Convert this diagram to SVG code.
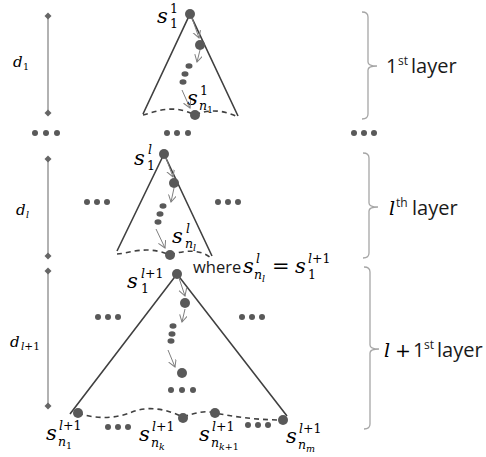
<svg xmlns="http://www.w3.org/2000/svg" width="486" height="457" viewBox="0 0 486 457">
<defs>
<marker id="ah" markerWidth="10" markerHeight="10" refX="7" refY="4" orient="auto" markerUnits="userSpaceOnUse">
<path d="M0,0 L7,4 L0,8" fill="none" stroke="#7f7f7f" stroke-width="1"/>
</marker>
<style>
.edge{stroke:#404040;stroke-width:1.6;fill:none}
.dash{stroke:#404040;stroke-width:1.6;fill:none;stroke-dasharray:5 4}
.arr{stroke:#7f7f7f;stroke-width:1;fill:none;marker-end:url(#ah)}
.dot{fill:#595959}
.dline{stroke:#7f7f7f;stroke-width:1.2}
.dia{fill:#666666}
.brace{stroke:#a6a6a6;stroke-width:1.3;fill:none}
.m{font-family:"DejaVu Serif",serif;font-style:italic;fill:#000}
.u{font-family:"DejaVu Serif",serif;font-style:normal;fill:#000}
.t{font-family:"Open Sans","Liberation Sans",sans-serif;fill:#1a1a1a}
.b{font-size:21px}
.sm{font-size:12.5px}
.xs{font-size:9.5px}
</style>
</defs>
<rect width="486" height="457" fill="#ffffff"/>

<!-- depth markers -->
<g id="depth1">
<line class="dline" x1="48" y1="16" x2="48" y2="113"/>
<path class="dia" d="M48,12.5 L51.5,16 L48,19.5 L44.5,16 Z"/>
<path class="dia" d="M48,109.5 L51.5,113 L48,116.5 L44.5,113 Z"/>
<text class="m" x="13" y="67" font-size="15">d</text>
<text class="u xs" x="23" y="70">1</text>
</g>
<g id="depthl">
<line class="dline" x1="48" y1="159" x2="48" y2="256"/>
<path class="dia" d="M48,155.5 L51.5,159 L48,162.5 L44.5,159 Z"/>
<path class="dia" d="M48,252.5 L51.5,256 L48,259.5 L44.5,256 Z"/>
<text class="m" x="16" y="215" font-size="15">d</text>
<text class="m xs" x="26" y="218">l</text>
</g>
<g id="depthl1">
<line class="dline" x1="48" y1="271" x2="48" y2="406"/>
<path class="dia" d="M48,267.5 L51.5,271 L48,274.5 L44.5,271 Z"/>
<path class="dia" d="M48,402.5 L51.5,406 L48,409.5 L44.5,406 Z"/>
<text class="m" x="10" y="347" font-size="15">d</text>
<text class="m" x="21" y="350" font-size="10.5">l<tspan class="u">+1</tspan></text>
</g>

<!-- ellipsis rows -->
<g id="ellipses" class="dot">
<circle cx="35" cy="133" r="3"/><circle cx="46" cy="133" r="3"/><circle cx="57" cy="133" r="3"/>
<circle cx="167" cy="133" r="3"/><circle cx="177" cy="133" r="3"/><circle cx="188" cy="133" r="3"/>
<circle cx="354" cy="133" r="3"/><circle cx="364" cy="133" r="3"/><circle cx="374" cy="133" r="3"/>
<circle cx="87" cy="202" r="3"/><circle cx="97" cy="202" r="3"/><circle cx="107" cy="202" r="3"/>
<circle cx="218" cy="202" r="3"/><circle cx="228" cy="202" r="3"/><circle cx="238" cy="202" r="3"/>
<circle cx="98" cy="317" r="3"/><circle cx="108" cy="317" r="3"/><circle cx="118" cy="317" r="3"/>
<circle cx="242" cy="317" r="3"/><circle cx="252" cy="317" r="3"/><circle cx="262" cy="317" r="3"/>
<circle cx="108" cy="427" r="3"/><circle cx="118" cy="427" r="3"/><circle cx="128" cy="427" r="3"/>
<circle cx="248" cy="425" r="3"/><circle cx="258" cy="425" r="3"/><circle cx="268" cy="425" r="3"/>
</g>

<!-- layer 1 -->
<g id="layer1">
<path class="edge" d="M143,114 L190,14 L238,116"/>
<path class="dash" d="M143,115 C158,111 173,104 195,115 C210,108 226,111 238,117"/>
<circle class="dot" cx="190" cy="14" r="5"/>
<circle class="dot" cx="200" cy="45" r="5"/>
<ellipse class="dot" cx="189" cy="66" rx="3.5" ry="2.7"/>
<ellipse class="dot" cx="185" cy="74" rx="3.5" ry="2.7"/>
<ellipse class="dot" cx="183" cy="82" rx="3.5" ry="2.7"/>
<circle class="dot" cx="195" cy="115" r="5"/>
<text class="m b" x="157" y="23">s</text>
<text class="u sm" x="170" y="13">1</text>
<text class="u sm" x="170" y="28">1</text>
<text class="m b" x="187" y="105">s</text>
<text class="u sm" x="200" y="95">1</text>
<text class="m sm" x="199" y="110">n</text>
<text class="u xs" x="207" y="113">1</text>
</g>

<!-- layer l -->
<g id="layerl">
<path class="edge" d="M117,251 L164,154 L212,256"/>
<path class="dash" d="M117,254 C131,253 146,245 170,255 C185,250 200,249 211,258"/>
<circle class="dot" cx="164" cy="154" r="5"/>
<circle class="dot" cx="174" cy="183" r="5"/>
<ellipse class="dot" cx="163" cy="206" rx="3.5" ry="2.7"/>
<ellipse class="dot" cx="160" cy="214" rx="3.5" ry="2.7"/>
<ellipse class="dot" cx="158" cy="222" rx="3.5" ry="2.7"/>
<circle class="dot" cx="170" cy="255" r="5"/>
<text class="m b" x="134" y="165">s</text>
<text class="m sm" x="148" y="154">l</text>
<text class="u sm" x="147" y="170">1</text>
<text class="m b" x="172" y="243">s</text>
<text class="m sm" x="186" y="233">l</text>
<text class="m sm" x="185" y="248">n</text>
<text class="m xs" x="193" y="251">l</text>
</g>

<!-- layer l+1 -->
<g id="layerl1">
<path class="edge" d="M70,414 L177,274 L287,416"/>
<path class="dash" d="M78,413 C98,420 118,418 132,412 C150,405 168,410 183,417 C195,413 205,410 215,413 C240,418 262,420 283,420"/>
<circle class="dot" cx="177" cy="274" r="5"/>
<circle class="dot" cx="185" cy="303" r="5"/>
<ellipse class="dot" cx="173" cy="326" rx="3.5" ry="2.7"/>
<ellipse class="dot" cx="172" cy="334" rx="3.5" ry="2.7"/>
<ellipse class="dot" cx="171" cy="341" rx="3.5" ry="2.7"/>
<circle class="dot" cx="182" cy="373" r="5"/>
<circle class="dot" cx="171" cy="390" r="3"/><circle class="dot" cx="182" cy="390" r="3"/><circle class="dot" cx="193" cy="390" r="3"/>
<circle class="dot" cx="78" cy="413" r="5"/>
<circle class="dot" cx="183" cy="418" r="5"/>
<circle class="dot" cx="215" cy="413" r="5"/>
<circle class="dot" cx="283" cy="420" r="5"/>
<text class="m b" x="127" y="288">s</text>
<text class="m sm" x="141" y="278">l<tspan class="u">+1</tspan></text>
<text class="u sm" x="141" y="293">1</text>
<!-- bottom labels -->
<text class="m b" x="46" y="440">s</text>
<text class="m sm" x="59" y="430">l<tspan class="u">+1</tspan></text>
<text class="m sm" x="58" y="446">n</text>
<text class="u xs" x="66" y="449">1</text>
<text class="m b" x="139" y="441">s</text>
<text class="m sm" x="152" y="431">l<tspan class="u">+1</tspan></text>
<text class="m sm" x="151" y="447">n</text>
<text class="m xs" x="159" y="450">k</text>
<text class="m b" x="199" y="441">s</text>
<text class="m sm" x="212" y="431">l<tspan class="u">+1</tspan></text>
<text class="m sm" x="211" y="447">n</text>
<text class="m xs" x="219" y="450">k<tspan class="u">+1</tspan></text>
<text class="m b" x="286" y="443">s</text>
<text class="m sm" x="299" y="433">l<tspan class="u">+1</tspan></text>
<text class="m sm" x="298" y="449">n</text>
<text class="m xs" x="306" y="452">m</text>
</g>

<!-- where label -->
<g id="where">
<text class="t" x="193" y="273" font-size="16.5">where</text>
<text class="m b" x="243" y="273">s</text>
<text class="m sm" x="256" y="263">l</text>
<text class="m sm" x="254" y="279">n</text>
<text class="m xs" x="262" y="282">l</text>
<text class="u b" x="272" y="273">=</text>
<text class="m b" x="295" y="273">s</text>
<text class="m sm" x="308" y="263">l<tspan class="u">+1</tspan></text>
<text class="u sm" x="308" y="279">1</text>
</g>

<!-- braces and layer labels -->
<g id="brace1">
<path class="brace" d="M362,12 Q368,12 368,17 V62 Q368,66 377,66 Q368,66 368,70 V114 Q368,119 362,119"/>
<text class="t" x="386" y="73" font-size="20">1</text>
<text class="t" x="398" y="65" font-size="12">st</text>
<text class="t" x="411" y="73" font-size="20">layer</text>
</g>
<g id="brace2">
<path class="brace" d="M363,153 Q369,153 369,158 V203 Q369,207 378,207 Q369,207 369,211 V253 Q369,258 363,258"/>
<text class="m" x="389" y="215" font-size="19">l</text>
<text class="t" x="396" y="207" font-size="12">th</text>
<text class="t" x="412" y="215" font-size="20">layer</text>
</g>
<g id="brace3">
<path class="brace" d="M364,267 Q370,267 370,272 V345 Q370,349 379,349 Q370,349 370,353 V424 Q370,429 364,429"/>
<text class="m" x="384" y="357" font-size="19">l</text>
<text class="u" x="395" y="357" font-size="19">+</text>
<text class="t" x="413" y="357" font-size="20">1</text>
<text class="t" x="424" y="349" font-size="12">st</text>
<text class="t" x="437" y="357" font-size="20">layer</text>
</g>

<!-- connectors -->
<g id="connectors">
<line class="arr" x1="192" y1="18" x2="199" y2="38"/>
<line class="arr" x1="200" y1="50" x2="197" y2="62"/>
<line class="arr" x1="182" y1="90" x2="190" y2="108"/>
<line class="arr" x1="166" y1="158" x2="173" y2="177"/>
<line class="arr" x1="174" y1="188" x2="171" y2="202"/>
<line class="arr" x1="156" y1="229" x2="165" y2="248"/>
<line class="arr" x1="179" y1="278" x2="185" y2="296"/>
<line class="arr" x1="185" y1="309" x2="182" y2="322"/>
<line class="arr" x1="168" y1="350" x2="175" y2="367"/>
</g>
</svg>
